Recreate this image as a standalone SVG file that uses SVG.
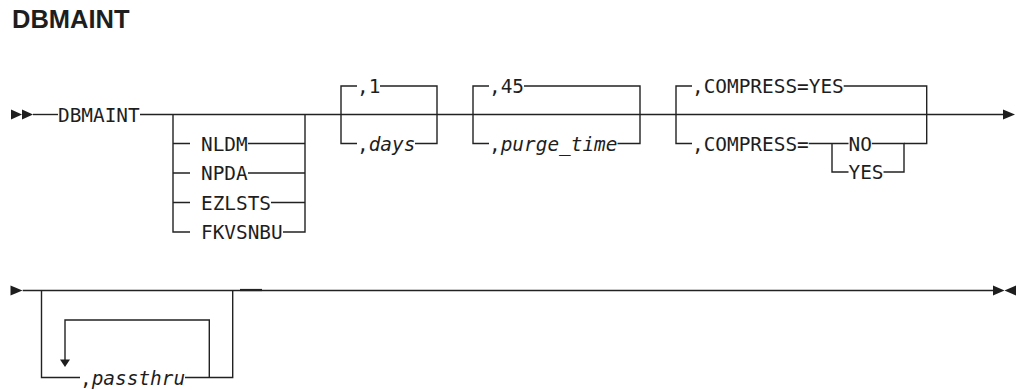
<svg xmlns="http://www.w3.org/2000/svg" xmlns:xlink="http://www.w3.org/1999/xlink" width="1018" height="390" viewBox="0 0 1018 390">
  <style>
    .bg { fill: #ffffff; }
    .title { font-family: "Liberation Sans", Arial, sans-serif; font-weight: bold; font-size: 25.5px; fill: #1e1e1e; }
    .kw { font-family: "DejaVu Sans Mono", "Liberation Mono", monospace; font-size: 19.4px; fill: #1e1e1e; }
    .var { font-family: "DejaVu Sans Mono", "Liberation Mono", monospace; font-size: 19.4px; font-style: italic; fill: #1e1e1e; }
    .rail { fill: none; stroke: #222222; stroke-width: 1.4; }
    .head { fill: #1e1e1e; stroke: none; }
  </style>
  <defs>
    <!-- right-pointing arrowhead, origin at its back edge -->
    <path id="tri" d="M0 -5 L12 0 L0 5 Z"/>
  </defs>

  <rect class="bg" x="0" y="0" width="1018" height="390"/>

  <g id="title">
    <text class="title" x="12" y="28.3">DBMAINT</text>
  </g>

  <!-- rails, branches and loops -->
  <g id="connectors">
    <!-- line 1 -->
    <path class="rail" d="M33 114.5 H58"/>
    <path class="rail" d="M140 114.5 H1003"/>
    <!-- optional database choice -->
    <path class="rail" d="M173 114.5 V232 H190 M173 143.5 H190 M173 173 H190 M173 202.5 H190"/>
    <path class="rail" d="M305 114.5 V232 H283 M248 143.5 H305 M248 173 H305 M271 202.5 H305"/>
    <!-- days -->
    <path class="rail" d="M357 86 H341 V143.5 H357 M380 86 H437 V143.5 H415"/>
    <!-- purge_time -->
    <path class="rail" d="M489 86 H473 V143.5 H489 M524 86 H640 V143.5 H617.5"/>
    <!-- COMPRESS -->
    <path class="rail" d="M692 86 H676 V143.5 H692 M843.7 86 H926.7 V143.5 H904"/>
    <path class="rail" d="M808.7 143.5 H848.5 M832 143.5 V172 H848.5 M871.8 143.5 H904 V172 H883.5"/>

    <!-- line 2 -->
    <path class="rail" d="M22.7 290.5 H993"/>
    <path class="rail" d="M240 290 H262" style="stroke-width:2.2"/>
    <!-- optional repeatable passthru -->
    <path class="rail" d="M41.5 290.5 V377.5 H80 M232.7 290.5 V377.5 H185"/>
    <path class="rail" d="M65 360 V320 H209.3 V377.5"/>
    <polygon class="head" points="60,359.5 70,359.5 65,367"/>
  </g>

  <!-- start / continuation / end symbols -->
  <g id="start-1">
    <use xlink:href="#tri" href="#tri" class="head" transform="translate(11 114.5) scale(0.92 1)"/>
    <use xlink:href="#tri" href="#tri" class="head" transform="translate(22 114.5) scale(0.92 1)"/>
  </g>
  <g id="cont-1">
    <use xlink:href="#tri" href="#tri" class="head" transform="translate(1003 114.5)"/>
  </g>
  <g id="cont-2">
    <use xlink:href="#tri" href="#tri" class="head" transform="translate(10.5 290.5)"/>
  </g>
  <g id="end-2">
    <use xlink:href="#tri" href="#tri" class="head" transform="translate(993 290.5) scale(0.96 1)"/>
    <use xlink:href="#tri" href="#tri" class="head" transform="translate(1016 290.5) scale(-0.96 1)"/>
  </g>

  <g id="cmd-dbmaint"><text class="kw" x="58" y="121.5">DBMAINT</text></g>

  <g id="opt-nldm"><text class="kw" x="201" y="150.5">NLDM</text></g>
  <g id="opt-npda"><text class="kw" x="201" y="180">NPDA</text></g>
  <g id="opt-ezlsts"><text class="kw" x="201" y="209.5">EZLSTS</text></g>
  <g id="opt-fkvsnbu"><text class="kw" x="201" y="239">FKVSNBU</text></g>

  <g id="days-default"><text class="kw" x="357" y="93">,1</text></g>
  <g id="days-value"><text class="kw" x="357" y="150.5">,<tspan class="var">days</tspan></text></g>

  <g id="purge-default"><text class="kw" x="489" y="93">,45</text></g>
  <g id="purge-value"><text class="kw" x="489" y="150.5">,<tspan class="var">purge_time</tspan></text></g>

  <g id="compress-default"><text class="kw" x="692" y="93">,COMPRESS=YES</text></g>
  <g id="compress-value"><text class="kw" x="692" y="150.5">,COMPRESS=</text></g>
  <g id="compress-no"><text class="kw" x="848.5" y="150.5">NO</text></g>
  <g id="compress-yes"><text class="kw" x="848.5" y="179">YES</text></g>

  <g id="passthru"><text class="kw" x="80" y="384.5">,<tspan class="var">passthru</tspan></text></g>
</svg>
